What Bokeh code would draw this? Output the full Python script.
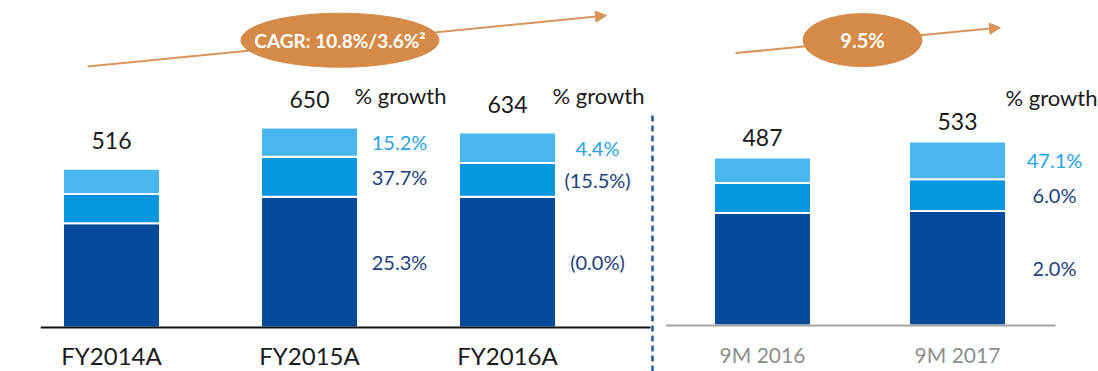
from bokeh.plotting import figure
from bokeh.layouts import row
from bokeh.models import Range1d, ColumnDataSource, Arrow, NormalHead
from bokeh.core.properties import value
from bokeh.embed import file_html
from bokeh.resources import INLINE

# ---------------- data ----------------
categories_left = ["FY2014A", "FY2015A", "FY2016A"]
dark_left = [339, 425, 425]
mid_left = [95, 130, 110]
light_left = [82, 95, 99]
totals_left = [516, 650, 634]
growth_dark_left = [None, "25.3%", "(0.0%)"]
growth_mid_left = [None, "37.7%", "(15.5%)"]
growth_light_left = [None, "15.2%", "4.4%"]
cagr_left = "CAGR: 10.8%/3.6%²"

categories_right = ["9M 2016", "9M 2017"]
dark_right = [326, 332]
mid_right = [87, 92]
light_right = [74, 109]
totals_right = [487, 533]
growth_dark_right = [None, "2.0%"]
growth_mid_right = [None, "6.0%"]
growth_light_right = [None, "47.1%"]
cagr_right = "9.5%"

# ---------------- style ----------------
FONT = "Lato"
DARK = "#044A9B"
MID = "#0796E0"
LIGHT = "#49B6F0"
TXT_LIGHT = "#27A3E8"
TXT_DARK = "#1C3F7C"
ORANGE = "#D58A47"
ARROW_C = "#D99459"
DASH = "#1E5BA7"
BLACK = "#1A1A1A"
GREY = "#8E8E8E"

H = 371


def base_fig(width, xr, yr, mbl):
    p = figure(width=width, height=H, x_range=xr, y_range=yr,
               output_backend="svg", toolbar_location=None,
               x_axis_location=None, y_axis_location=None,
               min_border_left=mbl, min_border_right=0,
               min_border_top=0, min_border_bottom=0)
    p.grid.visible = False
    p.outline_line_color = None
    p.background_fill_color = "white"
    p.border_fill_color = "white"
    return p


def stack(p, dark, mid, light, bw):
    n = len(dark)
    xs = list(range(n))
    b1 = [d for d in dark]
    b2 = [d + m for d, m in zip(dark, mid)]
    b3 = [d + m + l for d, m, l in zip(dark, mid, light)]
    p.vbar(x=xs, bottom=[0] * n, top=b1, width=bw, fill_color=DARK, line_color="white", line_width=2)
    p.vbar(x=xs, bottom=b1, top=b2, width=bw, fill_color=MID, line_color="white", line_width=2)
    p.vbar(x=xs, bottom=b2, top=b3, width=bw, fill_color=LIGHT, line_color="white", line_width=2)


def growth_labels(p, dark, mid, light, gd, gm, gl, dx):
    xs, ys, ts, cs = [], [], [], []
    for i in range(len(dark)):
        mids = [dark[i] / 2, dark[i] + mid[i] / 2, dark[i] + mid[i] + light[i] / 2]
        for lab, yy, col in zip([gd[i], gm[i], gl[i]], mids, [TXT_DARK, TXT_DARK, TXT_LIGHT]):
            if lab is not None:
                xs.append(i + dx); ys.append(yy); ts.append(lab); cs.append(col)
    src = ColumnDataSource(dict(x=xs, y=ys, t=ts, c=cs))
    p.text(x="x", y="y", text="t", text_color="c", source=src, text_font=value(FONT),
           text_font_size="20px", text_align="center", text_baseline="middle")


def cat_labels(p, cats, y, color, size):
    p.text(x=list(range(len(cats))), y=[y] * len(cats), text=cats, text_font=value(FONT),
           text_font_size=size, text_color=color, text_align="center", text_baseline="middle")


# ---------------- left panel ----------------
SL = 0.3077          # px per unit
XL = 198.0           # px per category
frame_w_l = 616      # frame from page x 40 to 656
xs_l = -71 / XL
ys_l = -44 / SL      # frame bottom 44 px below baseline
p1 = base_fig(656, Range1d(xs_l, xs_l + frame_w_l / XL), Range1d(ys_l, ys_l + H / SL), 40)
stack(p1, dark_left, mid_left, light_left, 97 / XL)
n_l = len(categories_left)
p1.segment(x0=[xs_l], y0=[0], x1=[n_l - 1 + 143 / XL], y1=[0], line_color="#111111", line_width=2)
cat_labels(p1, categories_left, -28 / SL, BLACK, "24px")
p1.text(x=list(range(n_l)), y=[t + 28 / SL for t in totals_left],
        text=[str(t) for t in totals_left], text_font=value(FONT), text_font_size="23px",
        text_color=BLACK, text_align="center", text_baseline="middle")
growth_labels(p1, dark_left, mid_left, light_left, growth_dark_left, growth_mid_left,
              growth_light_left, 90 / XL)
hdr_i = [i for i in range(n_l) if growth_dark_left[i] is not None]
p1.text(x=[i + 91 / XL for i in hdr_i], y=[max(totals_left) + 32 / SL] * len(hdr_i),
        text=["% growth"] * len(hdr_i), text_font=value(FONT), text_font_size="22px",
        text_color=BLACK, text_align="center", text_baseline="middle")
# divider
p1.segment(x0=[n_l - 1 + 145 / XL], y0=[ys_l], x1=[n_l - 1 + 145 / XL], y1=[214 / SL],
           line_color=DASH, line_width=2.5, line_dash="6 4")
# CAGR arrow + ellipse
p1.add_layout(Arrow(x_start=-24 / XL, y_start=max(totals_left) + 61 / SL,
                    x_end=2 + 99 / XL, y_end=max(totals_left) + 112 / SL,
                    line_color=ARROW_C, line_width=2, level="underlay",
                    end=NormalHead(size=11, fill_color=ARROW_C, line_color=ARROW_C)))
ecx = 1 + 30.5 / XL
ecy = max(totals_left) + 87.3 / SL
p1.ellipse(x=[ecx], y=[ecy], width=198, height=54, width_units="screen", height_units="screen",
           fill_color=ORANGE, line_color=ORANGE)
p1.text(x=[ecx], y=[ecy], text=[cagr_left], text_font=value(FONT), text_font_style="bold",
        text_font_size="19px", text_color="white", text_align="center", text_baseline="middle")

# ---------------- right panel ----------------
SR = 0.345
XR = 195.0
frame_w_r = 433      # page x 665 .. 1098
xs_r = -97 / XR
ys_r = -46 / SR
p2 = base_fig(442, Range1d(xs_r, xs_r + frame_w_r / XR), Range1d(ys_r, ys_r + H / SR), 9)
stack(p2, dark_right, mid_right, light_right, 97 / XR)
n_r = len(categories_right)
p2.segment(x0=[xs_r], y0=[0], x1=[n_r - 1 + 98 / XR], y1=[0], line_color="#A3A3A3", line_width=2)
cat_labels(p2, categories_right, -29 / SR, GREY, "21px")
p2.text(x=list(range(n_r)), y=[t + 20 / SR for t in totals_right],
        text=[str(t) for t in totals_right], text_font=value(FONT), text_font_size="23px",
        text_color=BLACK, text_align="center", text_baseline="middle")
growth_labels(p2, dark_right, mid_right, light_right, growth_dark_right, growth_mid_right,
              growth_light_right, 97 / XR)
hdr_r = [i for i in range(n_r) if growth_dark_right[i] is not None]
p2.text(x=[i + 94 / XR for i in hdr_r], y=[max(totals_right) + 44 / SR] * len(hdr_r),
        text=["% growth"] * len(hdr_r), text_font=value(FONT), text_font_size="22px",
        text_color=BLACK, text_align="center", text_baseline="middle")
p2.add_layout(Arrow(x_start=-27 / XR, y_start=max(totals_right) + 88.5 / SR,
                    x_end=1 + 43 / XR, y_end=max(totals_right) + 114 / SR,
                    line_color=ARROW_C, line_width=2, level="underlay",
                    end=NormalHead(size=11, fill_color=ARROW_C, line_color=ARROW_C)))
rcx = 100 / XR
rcy = max(totals_right) + 101.5 / SR
p2.ellipse(x=[rcx], y=[rcy], width=119, height=53, width_units="screen", height_units="screen",
           fill_color=ORANGE, line_color=ORANGE)
p2.text(x=[rcx], y=[rcy], text=[cagr_right], text_font=value(FONT), text_font_style="bold",
        text_font_size="20px", text_color="white", text_align="center", text_baseline="middle")

layout = row(p1, p2)
open("out.html", "w").write(file_html(layout, INLINE))
